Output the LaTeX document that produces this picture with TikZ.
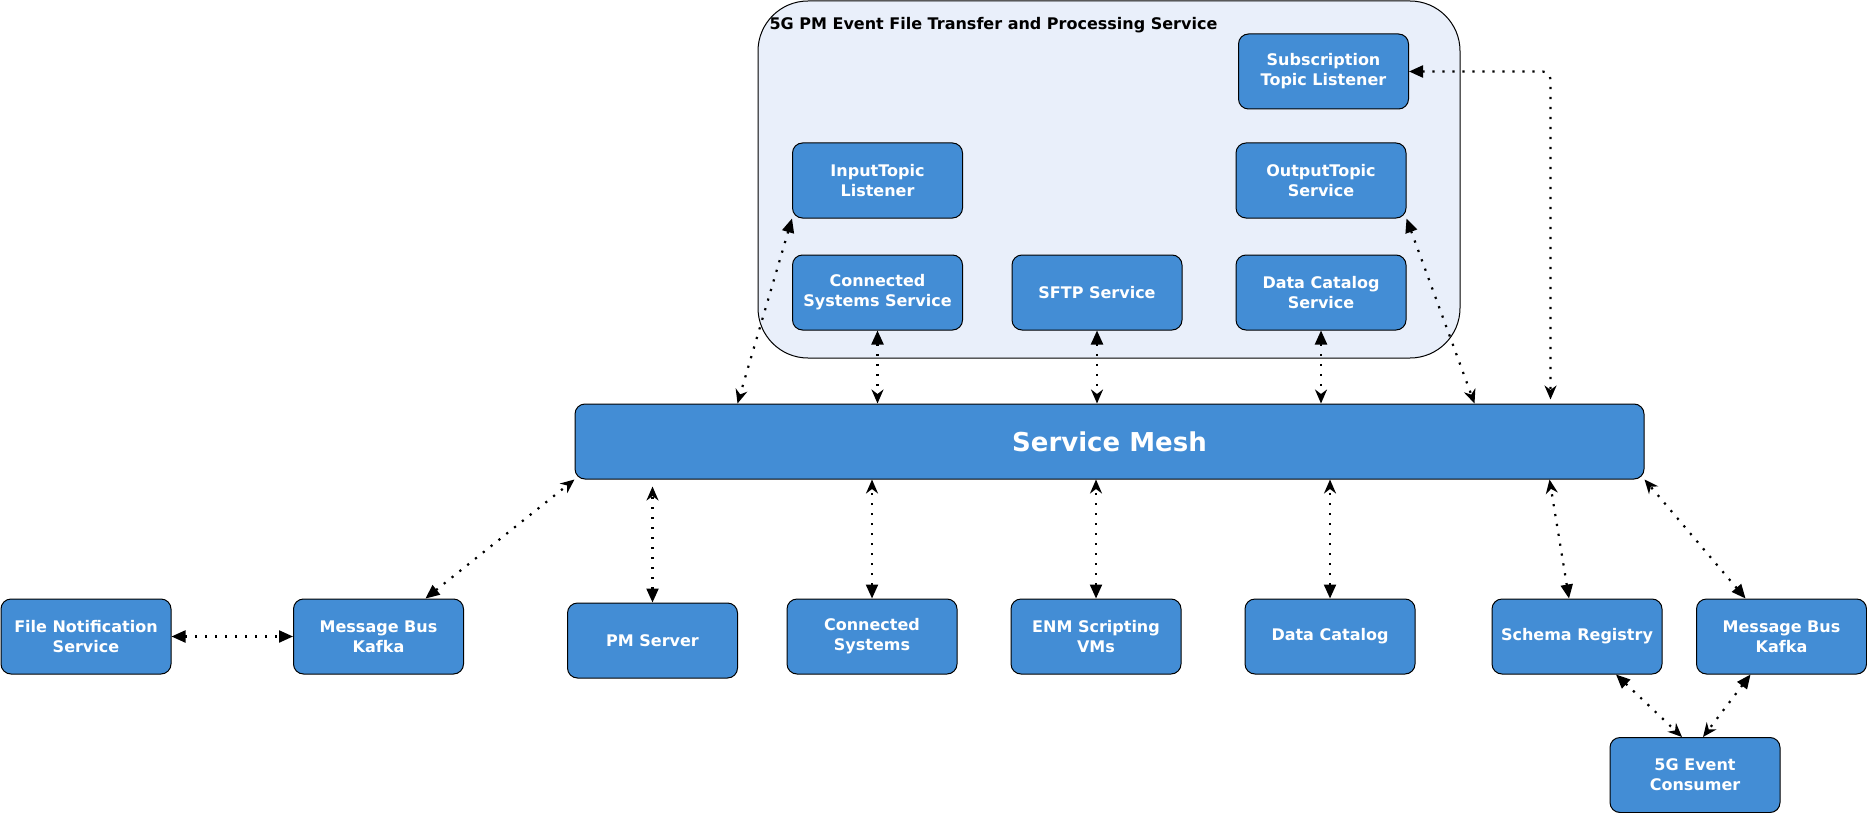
\documentclass[tikz,border=0pt]{standalone}
\usepackage{fontspec}
\setmainfont{DejaVu Sans}
\usetikzlibrary{arrows.meta, calc}
\definecolor{svcblue}{RGB}{67,141,213}
\definecolor{groupbg}{RGB}{233,239,250}
\tikzset{
    svc/.style={rectangle, draw=black, line width=1pt, fill=svcblue,
                rounded corners=10pt, text=white, align=center, inner sep=2pt,
                minimum width=170pt, minimum height=75pt,
                font=\fontsize{16}{20}\selectfont\bfseries},
    mesh/.style={svc, minimum width=1069pt, font=\fontsize{26}{31}\selectfont\bfseries},
    group/.style={draw=black, line width=1pt, fill=groupbg, rounded corners=50pt},
    link/.style={{Triangle[length=14pt,width=12pt]}-{Stealth[length=14pt,width=12pt,inset=4.5pt]},
                 line width=2.2pt, dash pattern=on 2.2pt off 7.8pt},
    linkb/.style={link, {Triangle[length=14pt,width=12pt]}-{Triangle[length=14pt,width=12pt]}}
}
\begin{document}
\begin{tikzpicture}[x=1pt, y=-1pt]
    \useasboundingbox (0,0) rectangle (1867,813);

    % processing service
    \draw[group] (758,1) rectangle (1460,358);
    \node[anchor=west, font=\fontsize{16}{19}\selectfont\bfseries] (title) at (766,25)
        {5G PM Event File Transfer and Processing Service};
    \node[svc] (sub) at (1323.5,71.5) {Subscription\\Topic Listener};
    \node[svc] (input) at (877.5,180.5) {InputTopic\\Listener};
    \node[svc] (output) at (1321,180.5) {OutputTopic\\Service};
    \node[svc] (css) at (877.5,292.5) {Connected\\Systems Service};
    \node[svc] (sftp) at (1097,292.5) {SFTP Service};
    \node[svc] (dcs) at (1321,292.5) {Data Catalog\\Service};

    \node[mesh] (mesh) at (1109.5,441.5) {Service Mesh};

    % outside services
    \node[svc] (fns) at (86,636.5) {File Notification\\Service};
    \node[svc] (kafkaL) at (378.5,636.5) {Message Bus\\Kafka};
    \node[svc] (pm) at (652.5,640.5) {PM Server};
    \node[svc] (cs) at (872,636.5) {Connected\\Systems};
    \node[svc] (enm) at (1096,636.5) {ENM Scripting\\VMs};
    \node[svc] (dc) at (1330,636.5) {Data Catalog};
    \node[svc] (schema) at (1577,636.5) {Schema Registry};
    \node[svc] (kafkaR) at (1781.5,636.5) {Message Bus\\Kafka};
    \node[svc] (consumer) at (1695,775) {5G Event\\Consumer};

    % links into the mesh
    \draw[link] (input.south west) -- ([xshift=163pt]mesh.north west);
    \draw[link] (css.south) -- (css.south |- mesh.north);
    \draw[link] (sftp.south) -- (sftp.south |- mesh.north);
    \draw[link] (dcs.south) -- (dcs.south |- mesh.north);
    \draw[link] (output.south east) -- ([xshift=-170pt]mesh.north east);
    \draw[link, rounded corners=8pt, shorten >=4pt] (sub.east) -| ([xshift=-94pt]mesh.north east);

    \draw[link] ([xshift=47pt]kafkaL.north) -- (mesh.south west);
    \draw[link, shorten >=7pt] (pm.north) -- (pm.north |- mesh.south);
    \draw[link] (cs.north) -- (cs.north |- mesh.south);
    \draw[link] (enm.north) -- (enm.north |- mesh.south);
    \draw[link] (dc.north) -- (dc.north |- mesh.south);
    \draw[link] ([xshift=-8pt]schema.north) -- ([xshift=-95pt]mesh.south east);
    \draw[link] ([xshift=-36pt]kafkaR.north) -- (mesh.south east);

    % other links
    \draw[linkb] (fns.east) -- (kafkaL.west);
    \draw[link] ([xshift=39pt]schema.south) -- ([xshift=-13pt]consumer.north);
    \draw[link] ([xshift=-31pt]kafkaR.south) -- ([xshift=8pt]consumer.north);
\end{tikzpicture}
\end{document}
